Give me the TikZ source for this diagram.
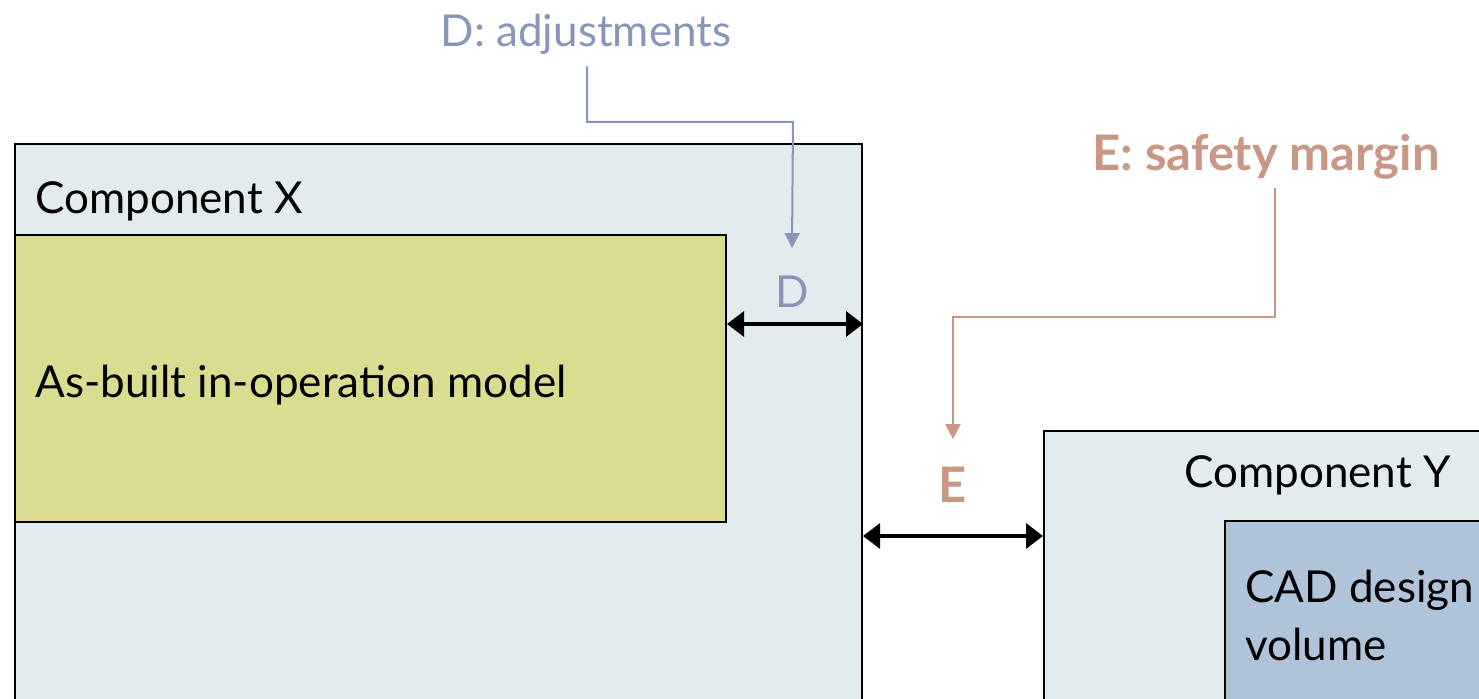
\documentclass[tikz,border=0pt]{standalone}
\usepackage{fontspec}
\setmainfont{Lato}
\usetikzlibrary{arrows.meta}
\definecolor{panel}{HTML}{E2EBEE}
\definecolor{asbuilt}{HTML}{DADD8F}
\definecolor{cadfill}{HTML}{AFC4D9}
\definecolor{dcol}{HTML}{8896B8}
\definecolor{ecol}{HTML}{C99885}
\begin{document}
\begin{tikzpicture}[x=0.5pt,y=-0.5pt,
  box/.style={draw=black,line width=1pt,anchor=north west,inner sep=0pt},
  txt/.style={font=\fontsize{22}{26}\selectfont,inner sep=0pt,anchor=base west},
  lbl/.style={font=\fontsize{22}{26}\selectfont,inner sep=0pt,anchor=base},
  boldlbl/.style={font=\fontsize{24.5}{28}\selectfont\bfseries,inner sep=0pt,anchor=base},
  gap/.style={line width=1.6pt,{Triangle[length=8.5pt,width=12.5pt]}-{Triangle[length=8.5pt,width=12.5pt]}},
  dcall/.style={draw=dcol,line width=1pt,-{Triangle[length=7.5pt,width=7.5pt]}},
  ecall/.style={draw=ecol,line width=1pt,-{Triangle[length=7.5pt,width=7.5pt]}}]
\useasboundingbox (0,0) rectangle (1479,699);
\fill[white] (0,0) rectangle (1479,699);
\clip (0,0) rectangle (1479,699);

% component boxes
\node[box,fill=panel,minimum width=423.5pt,minimum height=320pt] (compX) at (14,143) {};
\node[box,fill=asbuilt,minimum width=355.5pt,minimum height=143.5pt] (model) at (14,234) {};
\node[box,fill=panel,minimum width=250pt,minimum height=170pt] (compY) at (1043,430) {};
\node[box,fill=cadfill,minimum width=160pt,minimum height=130pt] (cad) at (1224,520) {};

% box captions
\node[txt] (tX) at (35,214) {Component X};
\node[txt] (tM) at (35,398) {As-built in-operation model};
\node[txt] (tY) at (1184,488) {Component Y};
\node[txt] (tC1) at (1245,603) {CAD design};
\node[txt] (tC2) at (1245,661) {volume};

% clearance labels
\node[lbl,text=dcol] (dadj) at (586,47) {D: adjustments};
\node[lbl,text=dcol] (dl) at (792,308) {D};
\node[boldlbl,text=ecol] (esm) at (1266,171) {E: safety margin};
\node[boldlbl,text=ecol] (el) at (953,503) {E};

% clearance dimensions
\coordinate (dlev) at (0,324);
\coordinate (elev) at (0,536);
\draw[gap] (model.east |- dlev) -- (compX.east |- dlev);
\draw[gap] (compX.east |- elev) -- (compY.west |- elev);

% callout leaders
\coordinate (dbend) at (793,122);
\coordinate (ebend) at (953,317);
\draw[dcall] ([xshift=0.5pt,yshift=-5.5pt]dadj.south) |- (dbend) -- ([yshift=14pt]dl.north);
\draw[ecall] ([xshift=4.5pt,yshift=-4pt]esm.south) |- (ebend) -- ([yshift=14pt]el.north);
\end{tikzpicture}
\end{document}
